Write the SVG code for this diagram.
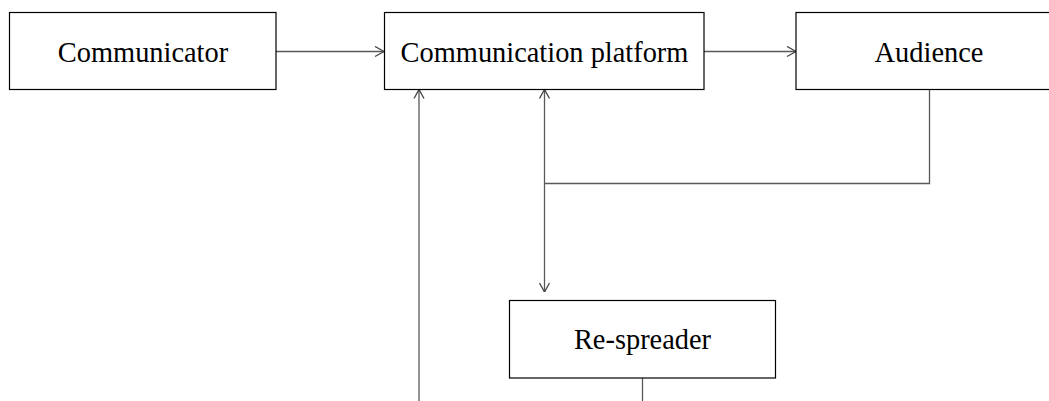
<svg xmlns="http://www.w3.org/2000/svg" width="1049" height="401" viewBox="0 0 1049 401">
<defs>
<style>
.box{fill:#fff;stroke:#000;stroke-width:1.2}
.lbl{font-family:"Liberation Serif","Times New Roman",serif;font-size:28.4px;fill:#000;text-anchor:middle}
.ln{fill:none;stroke:#595959;stroke-width:1.3}
</style>
<marker id="ah" viewBox="0 0 10 12" refX="10" refY="6" markerWidth="10" markerHeight="12" markerUnits="userSpaceOnUse" orient="auto-start-reverse">
<path d="M1,1 L10,6 L1,11" fill="none" stroke="#444" stroke-width="1.3"/>
</marker>
</defs>
<rect width="1049" height="401" fill="#fff"/>
<g id="connectors">
<line class="ln" x1="276" y1="51.5" x2="384" y2="51.5" marker-end="url(#ah)"/>
<line class="ln" x1="704" y1="51.5" x2="796" y2="51.5" marker-end="url(#ah)"/>
<line class="ln" x1="544.5" y1="89.5" x2="544.5" y2="292" marker-start="url(#ah)" marker-end="url(#ah)"/>
<polyline class="ln" points="544.5,183.5 929.5,183.5 929.5,89.5"/>
<line class="ln" x1="419" y1="401" x2="419" y2="89.5" marker-end="url(#ah)"/>
<line class="ln" x1="642.5" y1="378" x2="642.5" y2="401"/>
</g>
<g id="communicator">
<rect class="box" x="9.5" y="12.5" width="266.5" height="77"/>
<text class="lbl" x="143" y="62">Communicator</text>
</g>
<g id="platform">
<rect class="box" x="384.5" y="12.5" width="319.5" height="77"/>
<text class="lbl" x="544.5" y="62">Communication platform</text>
</g>
<g id="audience">
<rect class="box" x="796" y="12.5" width="266" height="77"/>
<text class="lbl" x="929" y="62">Audience</text>
</g>
<g id="respreader">
<rect class="box" x="509.5" y="300.5" width="266" height="77.5"/>
<text class="lbl" x="642.5" y="349">Re-spreader</text>
</g>
</svg>
